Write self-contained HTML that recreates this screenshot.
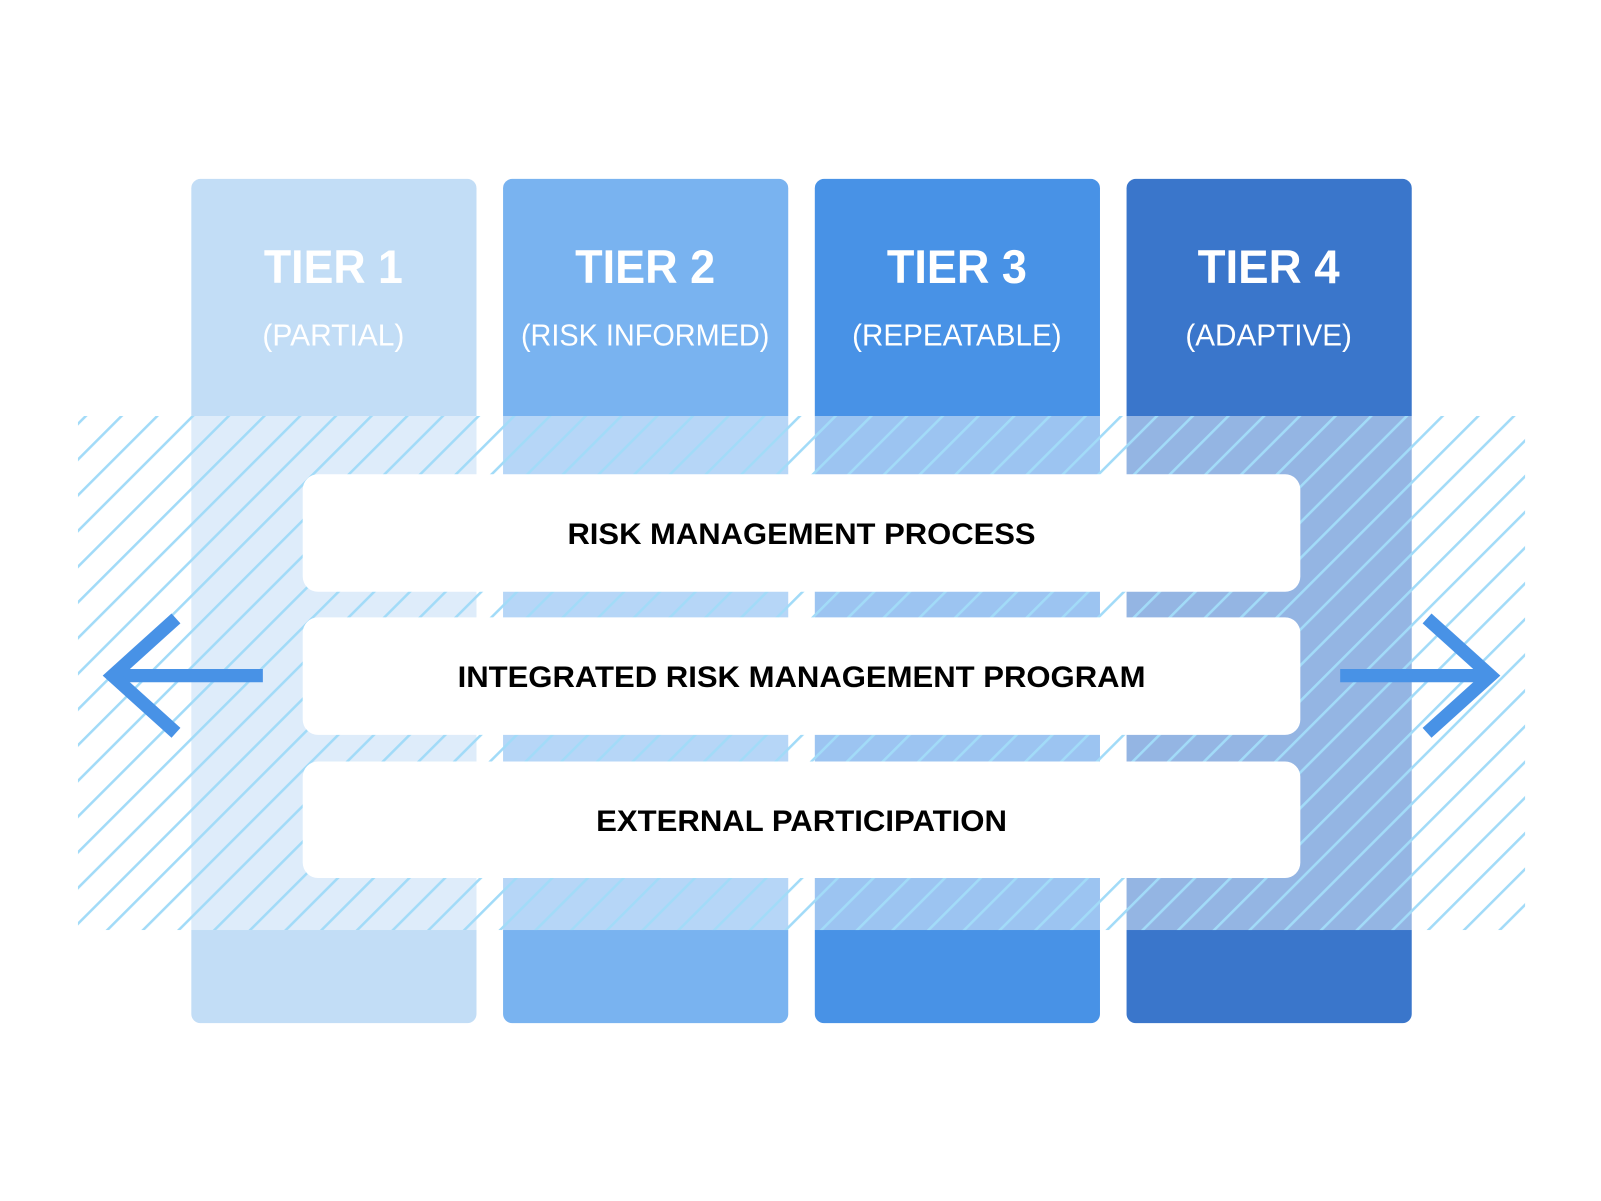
<!DOCTYPE html>
<html><head><meta charset="utf-8"><style>
html,body{margin:0;padding:0;background:#fff;}
svg{display:block;font-family:"Liberation Sans",sans-serif;}
</style></head><body>
<svg width="1601" height="1201" viewBox="0 0 1566 1175" xmlns="http://www.w3.org/2000/svg">
<defs>
<pattern id="h" patternUnits="userSpaceOnUse" width="24.7" height="24.7" patternTransform="rotate(45)">
<rect x="0" y="0" width="2.5" height="24.7" fill="#a2dbf8"/>
</pattern>
<clipPath id="band"><rect x="76" y="407" width="1416" height="503"/></clipPath>
</defs>
<rect x="187" y="175" width="279" height="826" rx="9" fill="#c2ddf6"/>
<rect x="492" y="175" width="279" height="826" rx="9" fill="#79b3f0"/>
<rect x="797" y="175" width="279" height="826" rx="9" fill="#4892e6"/>
<rect x="1102" y="175" width="279" height="826" rx="9" fill="#3a76cb"/>
<g clip-path="url(#band)">
<rect x="76" y="407" width="1416" height="503" fill="#fff" opacity="0.46"/>
<rect x="76" y="407" width="1416" height="503" fill="url(#h)"/>
</g>
<g fill="#fff">
<text x="326" y="277" font-size="46" font-weight="bold" text-anchor="middle" textLength="136" lengthAdjust="spacingAndGlyphs">TIER 1</text>
<text x="631" y="277" font-size="46" font-weight="bold" text-anchor="middle" textLength="137" lengthAdjust="spacingAndGlyphs">TIER 2</text>
<text x="936" y="277" font-size="46" font-weight="bold" text-anchor="middle" textLength="137" lengthAdjust="spacingAndGlyphs">TIER 3</text>
<text x="1241" y="277" font-size="46" font-weight="bold" text-anchor="middle" textLength="139" lengthAdjust="spacingAndGlyphs">TIER 4</text>
<text x="326" y="338" font-size="30" text-anchor="middle" textLength="139" lengthAdjust="spacingAndGlyphs">(PARTIAL)</text>
<text x="631" y="338" font-size="30" text-anchor="middle" textLength="243" lengthAdjust="spacingAndGlyphs">(RISK INFORMED)</text>
<text x="936" y="338" font-size="30" text-anchor="middle" textLength="205" lengthAdjust="spacingAndGlyphs">(REPEATABLE)</text>
<text x="1241" y="338" font-size="30" text-anchor="middle" textLength="163" lengthAdjust="spacingAndGlyphs">(ADAPTIVE)</text>
</g>
<rect x="296" y="464" width="976" height="115" rx="15" fill="#fff"/>
<rect x="296" y="604" width="976" height="115" rx="15" fill="#fff"/>
<rect x="296" y="745" width="976" height="114" rx="15" fill="#fff"/>
<g fill="#000" font-weight="bold" font-size="29" text-anchor="middle">
<text x="784" y="532" textLength="458" lengthAdjust="spacingAndGlyphs">RISK MANAGEMENT PROCESS</text>
<text x="784" y="672" textLength="673" lengthAdjust="spacingAndGlyphs">INTEGRATED RISK MANAGEMENT PROGRAM</text>
<text x="784" y="813" textLength="402" lengthAdjust="spacingAndGlyphs">EXTERNAL PARTICIPATION</text>
</g>
<g stroke="#4892e6" stroke-width="13" fill="none">
<line x1="257" y1="661" x2="110" y2="661"/>
<polyline points="172,605 110,661 172,717"/>
<line x1="1311" y1="661" x2="1458" y2="661"/>
<polyline points="1396,605 1458,661 1396,717"/>
</g>
</svg>
</body></html>
